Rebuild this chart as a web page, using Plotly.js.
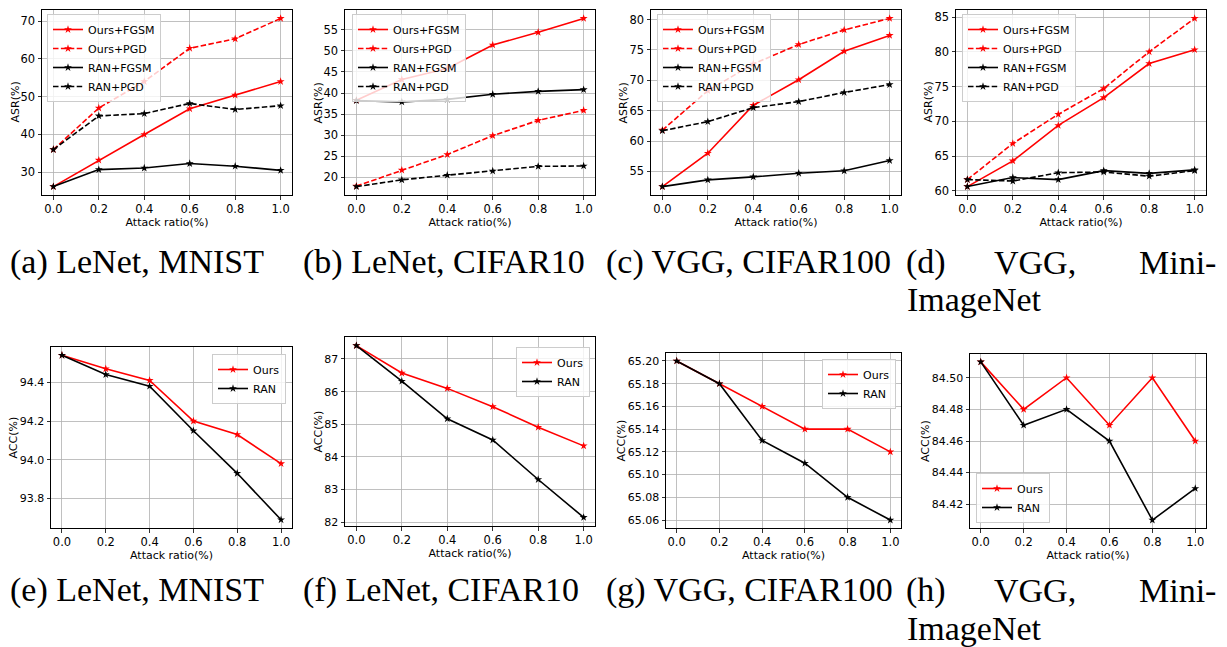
<!DOCTYPE html>
<html>
<head>
<meta charset="utf-8">
<script src="https://cdn.plot.ly/plotly-3.0.1.min.js"></script>
<style>
html,body{margin:0;padding:0;background:#fff;}
#chart{width:1227px;height:647px;}
</style>
</head>
<body>
<div id="chart"></div>
<script>
// ---------- data ----------
const ratios = [0.0, 0.2, 0.4, 0.6, 0.8, 1.0];

// (a) LeNet, MNIST  (ASR %)
const a_oursFGSM = [26.2, 33.2, 40.0, 46.8, 50.4, 54.0];
const a_oursPGD  = [36.0, 47.0, 54.0, 62.8, 65.3, 70.7];
const a_ranFGSM  = [26.2, 30.7, 31.1, 32.3, 31.6, 30.5];
const a_ranPGD   = [36.0, 44.9, 45.5, 48.2, 46.6, 47.6];
// (b) LeNet, CIFAR10
const b_oursFGSM = [38.3, 43.2, 45.8, 51.4, 54.4, 57.7];
const b_oursPGD  = [17.9, 21.7, 25.4, 29.9, 33.5, 35.9];
const b_ranFGSM  = [38.2, 37.9, 38.5, 39.7, 40.4, 40.8];
const b_ranPGD   = [17.8, 19.4, 20.5, 21.5, 22.6, 22.7];
// (c) VGG, CIFAR100
const c_oursFGSM = [52.5, 58.0, 65.9, 70.1, 74.8, 77.4];
const c_oursPGD  = [61.8, 68.3, 72.7, 75.9, 78.3, 80.2];
const c_ranFGSM  = [52.5, 53.6, 54.1, 54.7, 55.1, 56.8];
const c_ranPGD   = [61.7, 63.2, 65.5, 66.5, 68.0, 69.3];
// (d) VGG, Mini-ImageNet
const d_oursFGSM = [60.6, 64.3, 69.4, 73.4, 78.3, 80.3];
const d_oursPGD  = [61.6, 66.8, 71.0, 74.7, 80.0, 84.8];
const d_ranFGSM  = [60.6, 61.9, 61.6, 62.9, 62.5, 63.0];
const d_ranPGD   = [61.6, 61.4, 62.6, 62.7, 62.1, 62.9];
// (e) LeNet, MNIST  (ACC %)
const e_ours = [94.54, 94.47, 94.41, 94.20, 94.13, 93.98];
const e_ran  = [94.54, 94.44, 94.38, 94.15, 93.93, 93.69];
// (f) LeNet, CIFAR10
const f_ours = [87.41, 86.57, 86.10, 85.54, 84.91, 84.34];
const f_ran  = [87.41, 86.32, 85.17, 84.52, 83.31, 82.15];
// (g) VGG, CIFAR100
const g_ours = [65.20, 65.18, 65.16, 65.14, 65.14, 65.12];
const g_ran  = [65.20, 65.18, 65.13, 65.11, 65.08, 65.06];
// (h) VGG, Mini-ImageNet
const h_ours = [84.51, 84.48, 84.50, 84.47, 84.50, 84.46];
const h_ran  = [84.51, 84.47, 84.48, 84.46, 84.41, 84.43];

const asrNames = ['Ours+FGSM', 'Ours+PGD', 'RAN+FGSM', 'RAN+PGD'];
const accNames = ['Ours', 'RAN'];
const xTitle = 'Attack ratio(%)';
const captions = ['(a) LeNet, MNIST', '(b) LeNet, CIFAR10', '(c) VGG, CIFAR100',
                  '(e) LeNet, MNIST', '(f) LeNet, CIFAR10', '(g) VGG, CIFAR100'];

// ---------- layout helpers ----------
const W = 1227, H = 647;
const px = v => v / W;
const py = v => 1 - v / H;

const panels = [
  {box:[42,10,292,195],   series:[a_oursFGSM,a_oursPGD,a_ranFGSM,a_ranPGD], names:asrNames, ytitle:'ASR(%)', dtick:10, fmt:'d',
   leg:{x:47,y:14,xa:'left',ya:'top'}, ytx:15},
  {box:[345,10,595,195],  series:[b_oursFGSM,b_oursPGD,b_ranFGSM,b_ranPGD], names:asrNames, ytitle:'ASR(%)', dtick:5, fmt:'d',
   leg:{x:352,y:14,xa:'left',ya:'top'}, ytx:318},
  {box:[651,10,901,195],  series:[c_oursFGSM,c_oursPGD,c_ranFGSM,c_ranPGD], names:asrNames, ytitle:'ASR(%)', dtick:5, fmt:'d',
   leg:{x:657,y:14,xa:'left',ya:'top'}, ytx:623},
  {box:[956,10,1206,195], series:[d_oursFGSM,d_oursPGD,d_ranFGSM,d_ranPGD], names:asrNames, ytitle:'ASR(%)', dtick:5, fmt:'d',
   leg:{x:962,y:14,xa:'left',ya:'top'}, ytx:928},
  {box:[51,347,292,528],  series:[e_ours,e_ran], names:accNames, ytitle:'ACC(%)', dtick:0.2, fmt:'.1f',
   leg:{x:286,y:354,xa:'right',ya:'top'}, ytx:13},
  {box:[345,337,595,526], series:[f_ours,f_ran], names:accNames, ytitle:'ACC(%)', dtick:1, fmt:'d',
   leg:{x:590,y:347,xa:'right',ya:'top'}, ytx:318},
  {box:[666,353,901,528], series:[g_ours,g_ran], names:accNames, ytitle:'ACC(%)', dtick:0.02, fmt:'.2f',
   leg:{x:896,y:359,xa:'right',ya:'top'}, ytx:621},
  {box:[970,354,1206,528],series:[h_ours,h_ran], names:accNames, ytitle:'ACC(%)', dtick:0.02, fmt:'.2f',
   leg:{x:976,y:523,xa:'left',ya:'bottom'}, ytx:925}
];

const sansFont = 'DejaVu Sans, Verdana, sans-serif';
const serifFont = 'Liberation Serif, Times New Roman, serif';

const traces = [];
const layout = {
  width: W, height: H,
  margin: {l:0, r:0, t:0, b:0},
  paper_bgcolor: '#ffffff',
  plot_bgcolor: '#ffffff',
  font: {family: sansFont, size: 11, color: '#000'},
  annotations: []
};

panels.forEach((p, i) => {
  const n = i + 1;
  const xa = n === 1 ? 'x' : 'x' + n;
  const ya = n === 1 ? 'y' : 'y' + n;
  const legName = n === 1 ? 'legend' : 'legend' + n;
  const isAsr = p.series.length === 4;

  p.series.forEach((vals, k) => {
    const isOurs = p.names[k].startsWith('Ours');
    const color = isOurs ? '#ff0000' : '#000000';
    const dashed = isAsr && (k === 1 || k === 3);
    traces.push({
      type: 'scatter', mode: 'lines+markers',
      x: ratios, y: vals, name: p.names[k],
      xaxis: xa, yaxis: ya, legend: legName,
      line: {color: color, width: 1.6, dash: dashed ? '5.5px,2.4px' : 'solid'},
      marker: {symbol: 'star', size: 6, color: color, line: {width: 0}},
      hoverinfo: 'skip'
    });
  });

  // y range: matplotlib-like 5% margins computed from the data
  const all = [].concat(...p.series);
  const mn = Math.min(...all), mx = Math.max(...all);
  const pad = (mx - mn) * 0.05;

  const [l, t, r, b] = p.box;
  const common = {
    showgrid: true, gridcolor: '#b0b0b0', gridwidth: 0.8,
    showline: true, linecolor: '#000', linewidth: 1, mirror: true,
    ticks: 'outside', ticklen: 3.5, tickwidth: 0.8, tickcolor: '#000',
    zeroline: false, automargin: false,
    tickfont: {family: sansFont, size: 11.5, color: '#000'}
  };
  layout['xaxis' + (n === 1 ? '' : n)] = Object.assign({}, common, {
    domain: [px(l), px(r)], anchor: ya,
    range: [-0.05, 1.05], tick0: 0, dtick: 0.2, tickformat: '.1f',
    title: {text: xTitle, font: {family: sansFont, size: 11, color: '#000'}, standoff: 2}
  });
  layout['yaxis' + (n === 1 ? '' : n)] = Object.assign({}, common, {
    domain: [py(b), py(t)], anchor: xa,
    range: [mn - pad, mx + pad], tick0: 0, dtick: p.dtick, tickformat: p.fmt,
    tickfont: {family: sansFont, size: isAsr ? 11.5 : 11, color: '#000'}
  });
  // y-axis title as rotated text
  layout.annotations.push({
    text: p.ytitle, x: px(p.ytx), y: py((t + b) / 2), xref: 'paper', yref: 'paper',
    xanchor: 'center', yanchor: 'middle', textangle: -90, showarrow: false,
    font: {family: sansFont, size: 11, color: '#000'}
  });
  layout[legName] = {
    x: px(p.leg.x), y: py(p.leg.y), xanchor: p.leg.xa, yanchor: p.leg.ya,
    xref: 'paper', yref: 'paper',
    bgcolor: 'rgba(255,255,255,0.8)', bordercolor: '#cccccc', borderwidth: 1,
    font: {family: sansFont, size: 11, color: '#000'},
    itemwidth: 30, tracegroupgap: 0
  };
});

// ---------- captions ----------
const capFont = {family: serifFont, size: 34, color: '#000'};
const capX = [8, 301, 604];
const rowY = [262, 590];
const row2Y = [300, 628];
function cap(text, x, y, anchor) {
  layout.annotations.push({
    text: text, x: px(x), y: py(y), xref: 'paper', yref: 'paper',
    xanchor: anchor, yanchor: 'middle', showarrow: false, font: capFont
  });
}
[0, 1].forEach(row => {
  for (let c = 0; c < 3; c++) cap(captions[row * 3 + c], capX[c], rowY[row], 'left');
  const letter = row === 0 ? '(d)' : '(h)';
  cap(letter, 904, rowY[row], 'left');
  cap('VGG,', 1035, rowY[row], 'center');
  cap('Mini-', 1218, rowY[row], 'right');
  cap('ImageNet', 905, row2Y[row], 'left');
});

Plotly.newPlot('chart', traces, layout, {staticPlot: true, displayModeBar: false});
</script>
</body>
</html>
